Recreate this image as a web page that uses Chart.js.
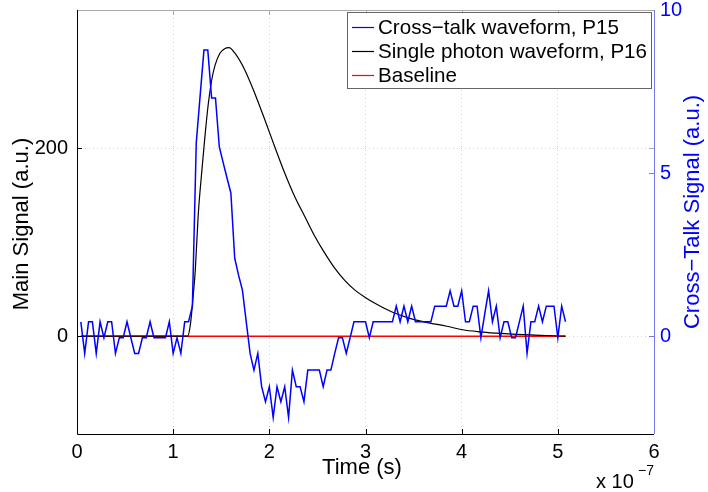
<!DOCTYPE html>
<html><head><meta charset="utf-8">
<script src="https://cdn.jsdelivr.net/npm/chart.js@4/dist/chart.umd.min.js"></script>
<style>html,body{margin:0;padding:0;background:#fff}#wrap{width:708px;height:492px}</style>
</head><body><div id="wrap"><canvas id="c" width="708" height="492"></canvas></div>
<script>
// ---- data (time in ns) ----
const crossTalkTimeNs = [4,8,12,16,20,24,28,32,36,40,44,48,52,56,60,64,68,72,76,80,84,88,92,96,100,104,108,112,116,120,124,128,132,136,140,144,148,152,156,160,164,168,172,176,180,184,188,192,196,200,204,208,212,216,220,224,228,232,236,240,244,248,252,256,260,264,268,272,276,280,284,288,292,296,300,304,308,312,316,320,324,328,332,336,340,344,348,352,356,360,364,368,372,376,380,384,388,392,396,400,404,408,412,416,420,424,428,432,436,440,444,448,452,456,460,464,468,472,476,480,484,488,492,496,500,504,508];
const crossTalkSignal = [0.44,-0.53,0.44,0.44,-0.53,0.44,-0.05,0.44,0.44,-0.53,-0.05,-0.05,0.44,-0.05,-0.53,-0.53,-0.05,-0.05,0.44,-0.05,-0.05,-0.05,-0.05,0.44,-0.53,-0.05,-0.53,0.44,0.44,0.92,5.92,7.36,8.77,8.77,7.30,7.30,5.80,5.32,4.85,4.39,2.39,1.87,1.41,0.44,-0.53,-1.04,-0.53,-1.55,-2.01,-1.55,-2.49,-1.55,-2.01,-1.55,-2.49,-1.04,-1.55,-1.55,-2.01,-1.04,-1.04,-1.04,-1.04,-1.55,-1.04,-1.04,-0.53,-0.05,-0.05,-0.53,-0.05,0.44,0.44,0.44,0.44,-0.05,0.44,0.44,0.44,0.44,0.44,0.44,0.92,0.44,0.92,0.44,0.92,0.44,0.44,0.44,0.44,0.44,0.92,0.92,0.92,0.92,1.39,0.92,0.92,1.39,0.44,0.44,0.92,0.92,-0.05,0.68,1.39,0.44,0.92,-0.05,0.44,0.44,-0.05,-0.05,0.44,0.92,-0.53,0.44,0.44,0.92,0.44,0.92,0.92,0.92,-0.05,0.92,0.44];
const singlePhotonTimeNs = [4,20,40,60,80,100,112,115,118,121,123,126,130,133,136.5,140,143.5,148.6,153.8,158,164.2,174.6,185,195.4,205.8,216.2,226.6,237,247.4,257.8,268.2,278.6,289,299.4,309.8,327,344.4,361.8,384.6,401,419,436,453,471,488.6,508];
const singlePhotonSignal = [0,0,0,0,0,0,0,0,13,45,70,128,178,212,247,272,288,301,306,307,301,283,258,230,201,173,148,127,106,88,72,59,49,41.5,35,26,19.5,15,10.5,6.8,4.6,3.2,2.1,1.3,0.7,0];
const baselineTimeNs = [4,508];
const baselineSignal = [0,0];
const seriesLabels = ['Cross\u2212talk waveform, P15','Single photon waveform, P16','Baseline'];
const xTickValues = [0,1,2,3,4,5,6];
const xTickLabels = ['0','1','2','3','4','5','6'];
const mainTicks = [0,200];
const mainTickLabels = ['0','200'];
const crossTalkTicks = [0,5,10];
const crossTalkTickLabels = ['0','5','10'];

const FONT = '"Liberation Sans", Arial, Helvetica, sans-serif';
const BLUE = '#0000ff';
const toPts = (t, v) => t.map((x, i) => ({x: x / 100, y: v[i]}));

const frame = {
  id: 'frame',
  afterDatasetsDraw(chart) {
    const {ctx, chartArea: a, scales} = chart;
    const xs = scales.x, yl = scales.y, yr = scales.y2;
    ctx.save();
    ctx.lineWidth = 1;
    ctx.strokeStyle = '#000';
    ctx.beginPath();
    xTickValues.forEach(v => { const px = Math.round(xs.getPixelForValue(v)) + 0.5; ctx.moveTo(px, a.bottom); ctx.lineTo(px, a.bottom - 5); });
    mainTicks.forEach(v => { const py = Math.round(yl.getPixelForValue(v)) + 0.5; ctx.moveTo(a.left, py); ctx.lineTo(a.left + 5, py); });
    ctx.stroke();
    ctx.strokeStyle = '#aaaaaa';
    ctx.beginPath();
    xTickValues.forEach(v => { const px = Math.round(xs.getPixelForValue(v)) + 0.5; ctx.moveTo(px, a.top); ctx.lineTo(px, a.top + 5); });
    mainTicks.forEach(v => { const py = Math.round(yl.getPixelForValue(v)) + 0.5; ctx.moveTo(a.right, py); ctx.lineTo(a.right - 5, py); });
    ctx.stroke();
    ctx.strokeStyle = '#7777ee';
    ctx.beginPath();
    crossTalkTicks.forEach(v => { const py = Math.round(yr.getPixelForValue(v)) + 0.5; ctx.moveTo(a.right, py); ctx.lineTo(a.right - 5, py); });
    ctx.stroke();
    ctx.strokeStyle = '#aaaaaa';
    ctx.beginPath(); ctx.moveTo(a.left, a.top + 0.5); ctx.lineTo(a.right, a.top + 0.5); ctx.stroke();
    ctx.strokeStyle = '#7777ee';
    ctx.beginPath(); ctx.moveTo(a.right + 0.5, a.top); ctx.lineTo(a.right + 0.5, a.bottom); ctx.stroke();
    ctx.strokeStyle = '#000';
    ctx.beginPath(); ctx.moveTo(a.left + 0.5, a.top); ctx.lineTo(a.left + 0.5, a.bottom + 0.5); ctx.lineTo(a.right, a.bottom + 0.5); ctx.stroke();

    // legend
    const lx = 347.5, ly = 12.5, lw = 304, lh = 76;
    ctx.fillStyle = '#fff';
    ctx.fillRect(lx, ly, lw, lh);
    ctx.strokeStyle = '#666';
    ctx.strokeRect(lx, ly, lw, lh);
    const colors = [BLUE, '#000', '#ff0000'];
    ctx.font = '20.6px ' + FONT;
    ctx.textBaseline = 'middle';
    ctx.textAlign = 'left';
    seriesLabels.forEach((s, i) => {
      const yy = 27 + i * 24;
      ctx.strokeStyle = colors[i];
      ctx.lineWidth = 1.2;
      ctx.beginPath(); ctx.moveTo(352, yy + 0.5); ctx.lineTo(374, yy + 0.5); ctx.stroke();
      ctx.fillStyle = '#000';
      ctx.fillText(s, 378, yy + 1);
    });

    ctx.font = '22px ' + FONT;
    ctx.fillStyle = '#000';
    ctx.textAlign = 'center';
    ctx.fillText('Time (s)', 362, 468);
    ctx.save();
    ctx.translate(22, 224); ctx.rotate(-Math.PI / 2);
    ctx.fillText('Main Signal (a.u.)', 0, 0);
    ctx.restore();
    ctx.save();
    ctx.translate(693, 212); ctx.rotate(-Math.PI / 2);
    ctx.fillStyle = BLUE;
    ctx.fillText('Cross\u2212Talk Signal (a.u.)', 0, 0);
    ctx.restore();
    ctx.fillStyle = '#000';
    ctx.textAlign = 'left';
    ctx.font = '20px ' + FONT;
    ctx.fillText('x 10', 596, 482);
    ctx.font = '14px ' + FONT;
    ctx.fillText('\u22127', 638, 471);
    ctx.restore();
  }
};

const noPad = s => { s.paddingTop = 0; s.paddingBottom = 0; s.paddingLeft = 0; s.paddingRight = 0; };

new Chart(document.getElementById('c'), {
  type: 'line',
  data: {
    datasets: [
      {label: seriesLabels[0], data: toPts(crossTalkTimeNs, crossTalkSignal), yAxisID: 'y2', borderColor: BLUE, borderWidth: 1.5, pointRadius: 0, tension: 0, fill: false},
      {label: seriesLabels[1], data: toPts(singlePhotonTimeNs, singlePhotonSignal), yAxisID: 'y', borderColor: '#000', borderWidth: 1.2, pointRadius: 0, cubicInterpolationMode: 'monotone', tension: 0.4, fill: false},
      {label: seriesLabels[2], data: toPts(baselineTimeNs, baselineSignal), yAxisID: 'y', borderColor: '#ff0000', borderWidth: 1.5, pointRadius: 0, fill: false}
    ]
  },
  options: {
    responsive: false, animation: false, devicePixelRatio: 1,
    layout: {padding: {top: 10, left: 0, right: 0, bottom: 0}},
    plugins: {legend: {display: false}, tooltip: {enabled: false}},
    scales: {
      x: {
        type: 'linear', min: 0, max: 6,
        afterBuildTicks: s => { s.ticks = xTickValues.map(v => ({value: v})); },
        afterFit: s => { s.height = 58; noPad(s); },
        ticks: {autoSkip: false, maxRotation: 0, padding: 6, color: '#000', font: {size: 20, family: FONT}, callback: v => xTickLabels[xTickValues.indexOf(v)]},
        grid: {color: '#d4d4d4', lineWidth: 1, drawTicks: false},
        border: {display: false, dash: [1, 3]}
      },
      y: {
        type: 'linear', position: 'left', min: -104.1, max: 347,
        afterBuildTicks: s => { s.ticks = mainTicks.map(v => ({value: v})); },
        afterFit: s => { s.width = 77; noPad(s); },
        ticks: {padding: 9, color: '#000', font: {size: 20, family: FONT}, callback: v => mainTickLabels[mainTicks.indexOf(v)]},
        grid: {color: '#d4d4d4', lineWidth: 1, drawTicks: false},
        border: {display: false, dash: [1, 3]}
      },
      y2: {
        type: 'linear', position: 'right', min: -3, max: 10,
        afterBuildTicks: s => { s.ticks = crossTalkTicks.map(v => ({value: v})); },
        afterFit: s => { s.width = 54; noPad(s); },
        ticks: {padding: 6, color: BLUE, font: {size: 20, family: FONT}, callback: v => crossTalkTickLabels[crossTalkTicks.indexOf(v)]},
        grid: {display: false, drawTicks: false},
        border: {display: false}
      }
    }
  },
  plugins: [frame]
});
</script></body></html>
